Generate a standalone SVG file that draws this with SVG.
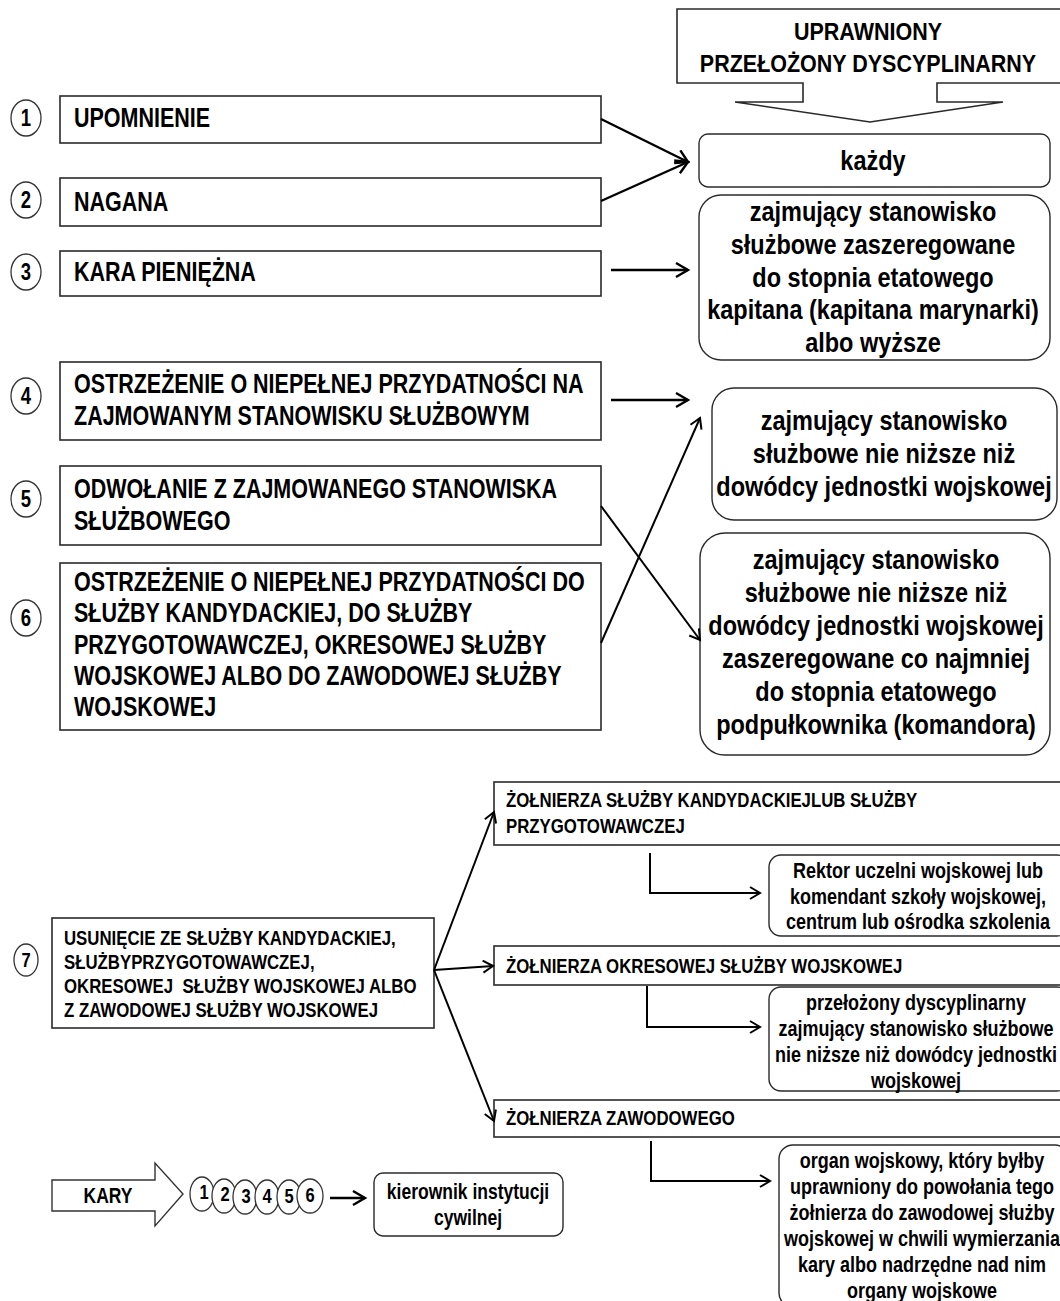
<svg xmlns="http://www.w3.org/2000/svg" width="1060" height="1301" viewBox="0 0 1060 1301">
<defs>
<marker id="ah" markerUnits="userSpaceOnUse" markerWidth="16" markerHeight="18" refX="13" refY="8" orient="auto">
<path d="M1,1 L13,8 L1,15" fill="none" stroke="#000" stroke-width="2.4" stroke-linejoin="miter"/>
</marker>
<marker id="ahs" markerUnits="userSpaceOnUse" markerWidth="14" markerHeight="16" refX="11" refY="7" orient="auto">
<path d="M1,1 L11,7 L1,13" fill="none" stroke="#000" stroke-width="2" stroke-linejoin="miter"/>
</marker>
</defs>
<style>
text{font-family:"Liberation Sans",Arial,sans-serif;font-weight:bold;fill:#000}
.box{fill:#fff;stroke:#2a2a2a;stroke-width:1.6}
.rbox{fill:#fff;stroke:#2a2a2a;stroke-width:1.4}
.num{fill:#fff;stroke:#333;stroke-width:1.3}
.l{font-size:21.5px}
.k{font-size:23.5px;text-anchor:middle}
.s{font-size:16.8px}
.r{font-size:18px;text-anchor:middle}
.n{font-size:18.5px;text-anchor:middle}
.m{font-size:16.5px;text-anchor:middle}
.c{stroke:#000;stroke-width:2.4;fill:none}
.cs{stroke:#000;stroke-width:2;fill:none}
</style>
<rect width="1060" height="1301" fill="#fff"/>

<g id="header">
<path d="M677,9 L1064,9 L1064,83 L937,83 L937,102 L1003,102 L870,122 L735,102 L803,102 L803,83 L677,83 Z" fill="#fff" stroke="#2a2a2a" stroke-width="1.6"/>
<text transform="translate(868,40) scale(1,1.15)" style="font-size:21.5px;text-anchor:middle"><tspan x="0">UPRAWNIONY</tspan><tspan x="0" dy="27.8">PRZEŁOŻONY DYSCYPLINARNY</tspan></text>
</g>

<g id="k1">
<rect class="rbox" x="699" y="134" width="351" height="53" rx="9"/>
<text class="k" transform="translate(873,170) scale(1,1.2)">każdy</text>
</g>
<g id="k2">
<rect class="rbox" x="699" y="195" width="351" height="165" rx="22"/>
<text class="k" transform="translate(873,221) scale(1,1.2)"><tspan x="0">zajmujący stanowisko</tspan><tspan x="0" dy="27.3">służbowe zaszeregowane</tspan><tspan x="0" dy="27.3">do stopnia etatowego</tspan><tspan x="0" dy="27.3">kapitana (kapitana marynarki)</tspan><tspan x="0" dy="27.3">albo wyższe</tspan></text>
</g>
<g id="k3">
<rect class="rbox" x="712" y="388" width="345" height="132" rx="22"/>
<text class="k" transform="translate(884,430) scale(1,1.2)"><tspan x="0">zajmujący stanowisko</tspan><tspan x="0" dy="27.5">służbowe nie niższe niż</tspan><tspan x="0" dy="27.5">dowódcy jednostki wojskowej</tspan></text>
</g>
<g id="k4">
<rect class="rbox" x="700" y="533" width="350" height="222" rx="25"/>
<text class="k" transform="translate(876,569) scale(1,1.2)"><tspan x="0">zajmujący stanowisko</tspan><tspan x="0" dy="27.5">służbowe nie niższe niż</tspan><tspan x="0" dy="27.5">dowódcy jednostki wojskowej</tspan><tspan x="0" dy="27.5">zaszeregowane co najmniej</tspan><tspan x="0" dy="27.5">do stopnia etatowego</tspan><tspan x="0" dy="27.5">podpułkownika (komandora)</tspan></text>
</g>

<g id="p1">
<ellipse class="num" cx="26" cy="118" rx="15" ry="18"/>
<text class="n" transform="translate(26,126) scale(1,1.3)">1</text>
<rect class="box" x="60" y="96" width="541" height="47"/>
<text class="l" transform="translate(74,127) scale(1,1.27)">UPOMNIENIE</text>
</g>
<g id="p2">
<ellipse class="num" cx="26" cy="200" rx="15" ry="18"/>
<text class="n" transform="translate(26,208) scale(1,1.3)">2</text>
<rect class="box" x="60" y="178" width="541" height="48"/>
<text class="l" transform="translate(74,211) scale(1,1.27)">NAGANA</text>
</g>
<g id="p3">
<ellipse class="num" cx="26" cy="272" rx="15" ry="18"/>
<text class="n" transform="translate(26,280) scale(1,1.3)">3</text>
<rect class="box" x="60" y="251" width="541" height="45"/>
<text class="l" transform="translate(74,281) scale(1,1.27)">KARA PIENIĘŻNA</text>
</g>
<g id="p4">
<ellipse class="num" cx="26" cy="396" rx="15" ry="18"/>
<text class="n" transform="translate(26,404) scale(1,1.3)">4</text>
<rect class="box" x="60" y="362" width="541" height="78"/>
<text class="l" transform="translate(74,393) scale(1,1.27)"><tspan x="0">OSTRZEŻENIE O NIEPEŁNEJ PRZYDATNOŚCI NA</tspan><tspan x="0" dy="25">ZAJMOWANYM STANOWISKU SŁUŻBOWYM</tspan></text>
</g>
<g id="p5">
<ellipse class="num" cx="26" cy="499" rx="15" ry="18"/>
<text class="n" transform="translate(26,507) scale(1,1.3)">5</text>
<rect class="box" x="60" y="466" width="541" height="79"/>
<text class="l" transform="translate(74,498) scale(1,1.27)"><tspan x="0">ODWOŁANIE Z ZAJMOWANEGO STANOWISKA</tspan><tspan x="0" dy="25">SŁUŻBOWEGO</tspan></text>
</g>
<g id="p6">
<ellipse class="num" cx="26" cy="618" rx="15" ry="18"/>
<text class="n" transform="translate(26,626) scale(1,1.3)">6</text>
<rect class="box" x="60" y="563" width="541" height="167"/>
<text class="l" transform="translate(74,591) scale(1,1.27)"><tspan x="0">OSTRZEŻENIE O NIEPEŁNEJ PRZYDATNOŚCI DO</tspan><tspan x="0" dy="24.7">SŁUŻBY KANDYDACKIEJ, DO SŁUŻBY</tspan><tspan x="0" dy="24.7">PRZYGOTOWAWCZEJ, OKRESOWEJ SŁUŻBY</tspan><tspan x="0" dy="24.7">WOJSKOWEJ ALBO DO ZAWODOWEJ SŁUŻBY</tspan><tspan x="0" dy="24.7">WOJSKOWEJ</tspan></text>
</g>

<g id="p7">
<ellipse class="num" cx="26" cy="960" rx="12" ry="16"/>
<text class="m" transform="translate(26,967) scale(1,1.25)">7</text>
<rect class="box" x="52" y="918" width="382" height="110"/>
<text class="s" transform="translate(64,945) scale(1,1.25)"><tspan x="0">USUNIĘCIE ZE SŁUŻBY KANDYDACKIEJ,</tspan><tspan x="0" dy="19.2">SŁUŻBYPRZYGOTOWAWCZEJ,</tspan><tspan x="0" dy="19.2">OKRESOWEJ&#160; SŁUŻBY WOJSKOWEJ ALBO</tspan><tspan x="0" dy="19.2">Z ZAWODOWEJ SŁUŻBY WOJSKOWEJ</tspan></text>
</g>

<g id="a">
<rect class="box" x="494" y="782" width="570" height="63"/>
<text class="s" transform="translate(506,807) scale(1,1.25)"><tspan x="0">ŻOŁNIERZA SŁUŻBY KANDYDACKIEJLUB SŁUŻBY</tspan><tspan x="0" dy="20.5">PRZYGOTOWAWCZEJ</tspan></text>
</g>
<g id="b">
<rect class="box" x="494" y="946" width="570" height="39"/>
<text class="s" transform="translate(506,973) scale(1,1.25)">ŻOŁNIERZA OKRESOWEJ SŁUŻBY WOJSKOWEJ</text>
</g>
<g id="c">
<rect class="box" x="494" y="1100" width="570" height="37"/>
<text class="s" transform="translate(506,1125) scale(1,1.25)">ŻOŁNIERZA ZAWODOWEGO</text>
</g>

<g id="r1">
<rect class="rbox" x="769" y="855" width="300" height="81" rx="12"/>
<text class="r" transform="translate(918,878) scale(1,1.25)"><tspan x="0">Rektor uczelni wojskowej lub</tspan><tspan x="0" dy="20.6">komendant szkoły wojskowej,</tspan><tspan x="0" dy="20.6">centrum lub ośrodka szkolenia</tspan></text>
</g>
<g id="r2">
<rect class="rbox" x="769" y="987" width="300" height="104" rx="12"/>
<text class="r" transform="translate(916,1010) scale(1,1.25)"><tspan x="0">przełożony dyscyplinarny</tspan><tspan x="0" dy="20.8">zajmujący stanowisko służbowe</tspan><tspan x="0" dy="20.8">nie niższe niż dowódcy jednostki</tspan><tspan x="0" dy="20.8">wojskowej</tspan></text>
</g>
<g id="r3">
<rect class="rbox" x="779" y="1145" width="290" height="162" rx="14"/>
<text class="r" transform="translate(922,1168) scale(1,1.25)"><tspan x="0">organ wojskowy, który byłby</tspan><tspan x="0" dy="20.8">uprawniony do powołania tego</tspan><tspan x="0" dy="20.8">żołnierza do zawodowej służby</tspan><tspan x="0" dy="20.8">wojskowej w chwili wymierzania</tspan><tspan x="0" dy="20.8">kary albo nadrzędne nad nim</tspan><tspan x="0" dy="20.8">organy wojskowe</tspan></text>
</g>

<g id="kary">
<path d="M52,1180 L155,1180 L155,1163 L183,1194 L155,1226 L155,1211 L52,1211 Z" fill="#fff" stroke="#333" stroke-width="1.4"/>
<text transform="translate(108,1203) scale(1,1.25)" style="font-size:17.5px;text-anchor:middle">KARY</text>
</g>
<g id="nums">
<ellipse class="num" cx="202" cy="1194" rx="12" ry="17"/>
<text class="m" transform="translate(204,1199) scale(1,1.25)">1</text>
<ellipse class="num" cx="224" cy="1196" rx="12" ry="17"/>
<text class="m" transform="translate(225,1201) scale(1,1.25)">2</text>
<ellipse class="num" cx="245" cy="1197" rx="12" ry="17"/>
<text class="m" transform="translate(246,1203) scale(1,1.25)">3</text>
<ellipse class="num" cx="267" cy="1197" rx="12" ry="17"/>
<text class="m" transform="translate(267,1203) scale(1,1.25)">4</text>
<ellipse class="num" cx="289" cy="1197" rx="12" ry="17"/>
<text class="m" transform="translate(289,1203) scale(1,1.25)">5</text>
<ellipse class="num" cx="310" cy="1196" rx="13" ry="17"/>
<text class="m" transform="translate(310,1202) scale(1,1.25)">6</text>
</g>
<g id="kier">
<rect class="rbox" x="374" y="1173" width="189" height="63" rx="9"/>
<text class="r" transform="translate(468,1199) scale(1,1.25)" style="font-size:17.5px"><tspan x="0">kierownik instytucji</tspan><tspan x="0" dy="20.5">cywilnej</tspan></text>
</g>

<g id="connectors">
<line class="c" x1="601" y1="119" x2="688" y2="162" marker-end="url(#ah)"/>
<line class="c" x1="601" y1="201" x2="688" y2="162" marker-end="url(#ah)"/>
<line class="c" x1="611" y1="270" x2="688" y2="270" marker-end="url(#ah)"/>
<line class="c" x1="611" y1="400" x2="688" y2="400" marker-end="url(#ah)"/>
<line class="cs" x1="601" y1="506" x2="700" y2="640" marker-end="url(#ahs)"/>
<line class="cs" x1="601" y1="643" x2="700" y2="418" marker-end="url(#ahs)"/>
<line class="cs" x1="434" y1="970" x2="494" y2="812" marker-end="url(#ahs)"/>
<line class="cs" x1="434" y1="970" x2="493" y2="966" marker-end="url(#ahs)"/>
<line class="cs" x1="434" y1="970" x2="494" y2="1121" marker-end="url(#ahs)"/>
<polyline class="cs" points="650,853 650,893 760,893" marker-end="url(#ahs)"/>
<polyline class="cs" points="647,986 647,1027 760,1027" marker-end="url(#ahs)"/>
<polyline class="cs" points="651,1141 651,1181 770,1181" marker-end="url(#ahs)"/>
<line class="c" x1="330" y1="1198" x2="365" y2="1198" marker-end="url(#ah)"/>
</g>
</svg>
